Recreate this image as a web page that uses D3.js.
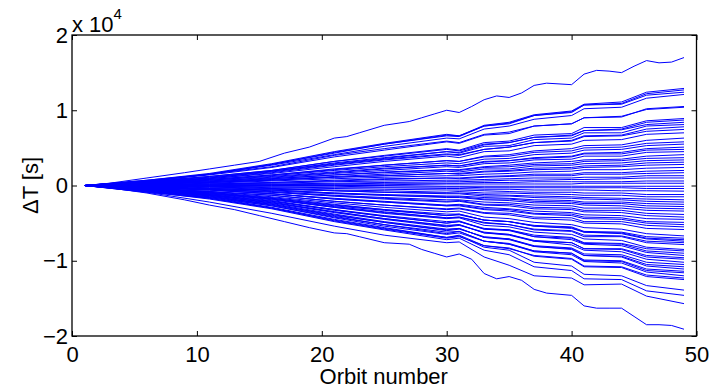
<!DOCTYPE html>
<html>
<head>
<meta charset="utf-8">
<script src="https://cdn.jsdelivr.net/npm/d3@7"></script>
<style>
  html, body { margin: 0; padding: 0; background: #fff; }
  svg { display: block; }
  text { font-family: "Liberation Sans", Arial, Helvetica, sans-serif; }
</style>
</head>
<body>
<svg id="chart" width="711" height="389"></svg>
<script>
// ---- DATA (ΔT in units of 10^4 s) ----
const orbits = [1, 6, 11, 16, 21, 25, 30, 31, 33, 35, 37, 40, 41, 44, 46, 49];
const orbitsFine = [1, 3, 6, 9, 11, 13, 15, 17, 19, 21, 22, 23, 25, 27, 28, 29, 30, 31, 32, 33, 34, 35, 36, 37, 38, 40, 41, 42, 43, 44, 45, 46, 47, 48, 49];
const xTicks = [0, 10, 20, 30, 40, 50];
const yTicks = [-2, -1, 0, 1, 2];
const yTickLabels = ["\u22122", "\u22121", "0", "1", "2"];
const xLabel = "Orbit number";
const yLabel = "\u0394T [s]";

// outermost runs, read at every kink (on orbitsFine)
const topRun    = [0, .03, .10, .17, .22, .27, .32, .43, .51, .63, .65, .70, .80, .85, .90, .95, 1.0, .97, 1.05, 1.14, 1.19, 1.17, 1.23, 1.33, 1.36, 1.34, 1.48, 1.53, 1.52, 1.50, 1.585, 1.66, 1.63, 1.64, 1.70];
const bottomRun = [0, -.03, -.10, -.19, -.26, -.32, -.40, -.48, -.56, -.63, -.64, -.68, -.76, -.78, -.85, -.90, -.95, -.91, -.98, -1.17, -1.24, -1.21, -1.26, -1.38, -1.43, -1.46, -1.60, -1.63, -1.63, -1.63, -1.74, -1.85, -1.85, -1.86, -1.91];

// remaining runs (on orbits)
const deltaT = [
  [0, .06, .15, .28, .44, .55, .67, .66, .80, .84, .94, .99, 1.08, 1.11, 1.24, 1.29],
  [0, .06, .15, .28, .43, .55, .66, .65, .79, .83, .93, .98, 1.07, 1.09, 1.22, 1.27],
  [0, .07, .16, .29, .45, .56, .68, .66, .79, .82, .93, .97, 1.07, 1.08, 1.20, 1.24],
  [0, .06, .15, .27, .41, .52, .63, .62, .75, .79, .88, .93, 1.02, 1.04, 1.16, 1.21],
  [0, .06, .14, .24, .38, .47, .58, .56, .67, .69, .79, .82, .90, .91, 1.02, 1.05],
  [0, .07, .15, .25, .40, .49, .59, .57, .68, .71, .79, .82, .90, .92, 1.01, 1.04],
  [0, .05, .12, .20, .32, .40, .49, .47, .57, .59, .67, .69, .77, .77, .86, .89],
  [0, .04, .10, .19, .30, .37, .45, .44, .54, .57, .64, .67, .73, .75, .84, .87],
  [0, .06, .12, .20, .32, .39, .48, .46, .55, .57, .64, .66, .73, .74, .81, .84],
  [0, .05, .11, .19, .29, .36, .45, .43, .52, .53, .61, .63, .70, .70, .79, .81],
  [0, .04, .09, .17, .27, .34, .41, .40, .48, .51, .57, .60, .66, .67, .75, .78],
  [0, .05, .10, .18, .28, .35, .42, .41, .48, .51, .57, .59, .65, .66, .72, .745],
  [0, .04, .09, .16, .25, .32, .39, .37, .45, .46, .53, .55, .60, .61, .68, .70],
  [0, .03, .08, .14, .21, .27, .33, .32, .39, .41, .46, .49, .53, .54, .60, .63],
  [0, .04, .08, .14, .22, .27, .33, .32, .38, .39, .44, .46, .50, .51, .56, .58],
  [0, .03, .07, .13, .20, .25, .30, .29, .35, .36, .41, .43, .47, .48, .53, .55],
  [0, .03, .06, .11, .17, .22, .27, .26, .32, .33, .37, .39, .43, .44, .49, .51],
  [0, .03, .07, .12, .18, .23, .27, .26, .31, .33, .36, .38, .42, .42, .47, .48],
  [0, .03, .06, .10, .16, .20, .25, .24, .29, .30, .34, .35, .39, .39, .44, .45],
  [0, .02, .05, .09, .14, .18, .21, .21, .25, .27, .30, .32, .34, .35, .39, .41],
  [0, .03, .05, .09, .14, .17, .21, .20, .24, .25, .28, .29, .32, .33, .36, .37],
  [0, .02, .04, .08, .12, .15, .19, .18, .22, .22, .26, .27, .29, .30, .33, .34],
  [0, .02, .04, .07, .11, .13, .16, .16, .19, .20, .23, .24, .26, .27, .30, .31],
  [0, .02, .04, .07, .11, .13, .16, .15, .18, .19, .21, .22, .24, .25, .27, .28],
  [0, .01, .03, .06, .09, .11, .13, .13, .15, .16, .18, .19, .21, .21, .23, .24],
  [0, .01, .02, .04, .07, .09, .10, .10, .12, .13, .15, .15, .17, .17, .19, .20],
  [0, .01, .02, .04, .06, .08, .10, .09, .11, .12, .13, .13, .15, .15, .16, .17],
  [0, .01, .02, .03, .05, .06, .07, .07, .08, .09, .10, .10, .11, .11, .13, .13],
  [0, .01, .01, .02, .03, .04, .05, .05, .06, .07, .07, .08, .08, .09, .10, .10],
  [0, 0, .01, .01, .02, .03, .03, .03, .04, .04, .05, .05, .05, .05, .06, .06],
  [0, 0, 0, .01, .01, .01, .02, .02, .02, .02, .02, .02, .03, .03, .03, .03],
  [0, 0, 0, 0, 0, 0, -.01, -.01, -.01, -.01, -.01, -.01, -.01, -.01, -.01, -.01],
  [0, 0, -.01, -.01, -.01, -.02, -.02, -.02, -.03, -.03, -.03, -.03, -.03, -.03, -.04, -.04],
  [0, 0, -.01, -.02, -.03, -.03, -.04, -.04, -.05, -.05, -.06, -.06, -.06, -.07, -.07, -.075],
  [0, -.01, -.01, -.03, -.04, -.05, -.06, -.06, -.07, -.08, -.09, -.09, -.10, -.10, -.12, -.12],
  [0, -.01, -.02, -.04, -.06, -.07, -.09, -.08, -.10, -.10, -.11, -.12, -.13, -.13, -.15, -.15],
  [0, -.01, -.02, -.04, -.07, -.09, -.10, -.10, -.12, -.13, -.14, -.15, -.16, -.17, -.18, -.19],
  [0, -.01, -.03, -.05, -.07, -.09, -.11, -.11, -.14, -.14, -.16, -.17, -.18, -.19, -.21, -.22],
  [0, -.02, -.04, -.06, -.10, -.12, -.14, -.14, -.16, -.17, -.19, -.20, -.22, -.22, -.24, -.25],
  [0, -.02, -.04, -.06, -.10, -.13, -.15, -.15, -.18, -.18, -.21, -.22, -.24, -.24, -.27, -.28],
  [0, -.02, -.04, -.07, -.11, -.13, -.16, -.16, -.19, -.20, -.23, -.24, -.26, -.27, -.30, -.31],
  [0, -.02, -.05, -.08, -.13, -.16, -.19, -.19, -.22, -.23, -.26, -.27, -.30, -.30, -.33, -.34],
  [0, -.02, -.05, -.09, -.14, -.17, -.21, -.20, -.25, -.25, -.29, -.30, -.33, -.33, -.37, -.385],
  [0, -.02, -.05, -.09, -.14, -.18, -.22, -.21, -.26, -.27, -.31, -.32, -.35, -.36, -.40, -.42],
  [0, -.03, -.06, -.11, -.17, -.21, -.26, -.25, -.29, -.31, -.34, -.36, -.39, -.40, -.44, -.45],
  [0, -.03, -.06, -.11, -.18, -.22, -.27, -.26, -.31, -.32, -.37, -.38, -.42, -.43, -.48, -.49],
  [0, -.03, -.06, -.11, -.18, -.22, -.27, -.27, -.32, -.34, -.38, -.40, -.44, -.45, -.50, -.52],
  [0, -.04, -.08, -.13, -.21, -.26, -.31, -.30, -.36, -.37, -.42, -.43, -.48, -.48, -.53, -.55],
  [0, -.04, -.08, -.13, -.21, -.26, -.32, -.31, -.37, -.39, -.44, -.46, -.50, -.51, -.57, -.585],
  [0, -.03, -.08, -.15, -.23, -.29, -.35, -.34, -.42, -.44, -.49, -.52, -.56, -.58, -.64, -.67],
  [0, -.05, -.10, -.17, -.27, -.33, -.40, -.39, -.46, -.48, -.53, -.55, -.61, -.62, -.68, -.70],
  [0, -.04, -.09, -.17, -.26, -.32, -.40, -.38, -.46, -.48, -.54, -.56, -.62, -.63, -.70, -.72],
  [0, -.04, -.09, -.16, -.25, -.32, -.38, -.38, -.46, -.48, -.54, -.57, -.62, -.64, -.71, -.74],
  [0, -.05, -.11, -.18, -.29, -.36, -.43, -.42, -.49, -.52, -.58, -.60, -.66, -.67, -.74, -.76],
  [0, -.05, -.10, -.18, -.28, -.35, -.43, -.42, -.50, -.52, -.59, -.61, -.68, -.68, -.76, -.785],
  [0, -.04, -.10, -.19, -.29, -.37, -.44, -.43, -.53, -.55, -.62, -.65, -.71, -.73, -.82, -.85],
  [0, -.06, -.12, -.21, -.33, -.41, -.50, -.48, -.57, -.59, -.66, -.69, -.76, -.77, -.84, -.87],
  [0, -.05, -.12, -.21, -.32, -.41, -.50, -.48, -.58, -.59, -.68, -.70, -.77, -.78, -.87, -.90],
  [0, -.05, -.11, -.20, -.32, -.40, -.48, -.47, -.58, -.60, -.68, -.72, -.78, -.80, -.89, -.93],
  [0, -.07, -.13, -.23, -.36, -.45, -.55, -.53, -.62, -.65, -.73, -.76, -.84, -.84, -.93, -.96],
  [0, -.06, -.13, -.23, -.35, -.44, -.54, -.52, -.63, -.65, -.74, -.76, -.84, -.85, -.95, -.98],
  [0, -.05, -.12, -.22, -.35, -.44, -.53, -.52, -.63, -.66, -.74, -.79, -.86, -.88, -.98, -1.02],
  [0, -.07, -.15, -.25, -.40, -.49, -.60, -.58, -.68, -.71, -.80, -.83, -.91, -.92, -1.02, -1.05],
  [0, -.06, -.14, -.25, -.39, -.49, -.59, -.57, -.69, -.71, -.81, -.84, -.93, -.94, -1.05, -1.08],
  [0, -.06, -.13, -.24, -.38, -.48, -.58, -.57, -.69, -.72, -.81, -.85, -.93, -.95, -1.07, -1.11],
  [0, -.08, -.16, -.27, -.43, -.54, -.65, -.63, -.74, -.78, -.87, -.90, -.99, -1.00, -1.11, -1.14],
  [0, -.07, -.15, -.27, -.42, -.52, -.64, -.61, -.74, -.77, -.87, -.90, -1.00, -1.01, -1.13, -1.16],
  [0, -.06, -.14, -.26, -.41, -.52, -.62, -.61, -.74, -.78, -.88, -.92, -1.01, -1.03, -1.15, -1.20],
  [0, -.09, -.17, -.30, -.47, -.58, -.70, -.68, -.80, -.84, -.93, -.97, -1.07, -1.08, -1.19, -1.23],
  [0, -.08, -.16, -.29, -.45, -.56, -.69, -.66, -.80, -.83, -.94, -.98, -1.08, -1.09, -1.21, -1.25],
  [0, -.07, -.17, -.30, -.46, -.57, -.69, -.67, -.82, -.86, -1.02, -1.07, -1.18, -1.20, -1.33, -1.39],
  [0, -.08, -.18, -.31, -.48, -.59, -.72, -.70, -.86, -.92, -1.08, -1.13, -1.24, -1.25, -1.40, -1.46],
  [0, -.09, -.22, -.37, -.54, -.66, -.76, -.75, -.95, -1.06, -1.20, -1.23, -1.32, -1.31, -1.47, -1.57]
];

// ---- LAYOUT ----
const mLeft = 72, mRight = 696.5, mTop = 35, mBottom = 336;
const svg = d3.select("#chart");

const x = d3.scaleLinear().domain([0, 50]).range([mLeft, mRight]);
const y = d3.scaleLinear().domain([-2, 2]).range([mBottom, mTop]);

const runs = deltaT.map(vals => vals.map((v, i) => [orbits[i], v]));
runs.push(topRun.map((v, i) => [orbitsFine[i], v]));
runs.push(bottomRun.map((v, i) => [orbitsFine[i], v]));

const line = d3.line()
  .x(d => x(d[0]))
  .y(d => y(d[1]));

svg.append("g")
  .selectAll("path")
  .data(runs)
  .join("path")
  .attr("d", line)
  .attr("fill", "none")
  .attr("stroke", "#0000ff")
  .attr("stroke-width", 1);

const fontSize = 22;

// bottom axis
const gx = svg.append("g")
  .attr("transform", `translate(0,${mBottom})`)
  .call(d3.axisBottom(x).tickValues(xTicks).tickSizeInner(-5).tickSizeOuter(0).tickPadding(10)
    .tickFormat(d3.format("d")));
// top axis ticks
const gxt = svg.append("g")
  .attr("transform", `translate(0,${mTop})`)
  .call(d3.axisTop(x).tickValues(xTicks).tickSizeInner(-5).tickSizeOuter(0).tickFormat(""));
// left axis
const gy = svg.append("g")
  .attr("transform", `translate(${mLeft},0)`)
  .call(d3.axisLeft(y).tickValues(yTicks).tickSizeInner(-5).tickSizeOuter(0).tickPadding(4)
    .tickFormat((d, i) => yTickLabels[i]));
// right axis ticks
const gyr = svg.append("g")
  .attr("transform", `translate(${mRight},0)`)
  .call(d3.axisRight(y).tickValues(yTicks).tickSizeInner(-5).tickSizeOuter(0).tickFormat(""));

[gx, gxt, gy, gyr].forEach(g => {
  g.select(".domain").remove();
  g.selectAll("line").attr("stroke", "#000").attr("stroke-width", 1);
  g.selectAll("text").attr("fill", "#000").style("font-size", fontSize + "px")
    .style("font-family", "'Liberation Sans', Arial, sans-serif");
});

// box
svg.append("rect")
  .attr("x", mLeft).attr("y", mTop)
  .attr("width", mRight - mLeft).attr("height", mBottom - mTop)
  .attr("fill", "none").attr("stroke", "#000").attr("stroke-width", 1.3);

// exponent label
const exp = svg.append("text")
  .attr("x", mLeft).attr("y", 32)
  .style("font-size", fontSize + "px").attr("fill", "#000");
exp.append("tspan").text("x 10");
exp.append("tspan").attr("dy", -13).style("font-size", "15px").text("4");

// x label
svg.append("text")
  .attr("x", (mLeft + mRight) / 2 - 0.5).attr("y", 384)
  .attr("text-anchor", "middle")
  .style("font-size", fontSize + "px").attr("fill", "#000")
  .text(xLabel);

// y label
svg.append("text")
  .attr("transform", `translate(38,${(mTop + mBottom) / 2}) rotate(-90)`)
  .attr("text-anchor", "middle")
  .style("font-size", fontSize + "px").attr("fill", "#000")
  .text(yLabel);
</script>
</body>
</html>
